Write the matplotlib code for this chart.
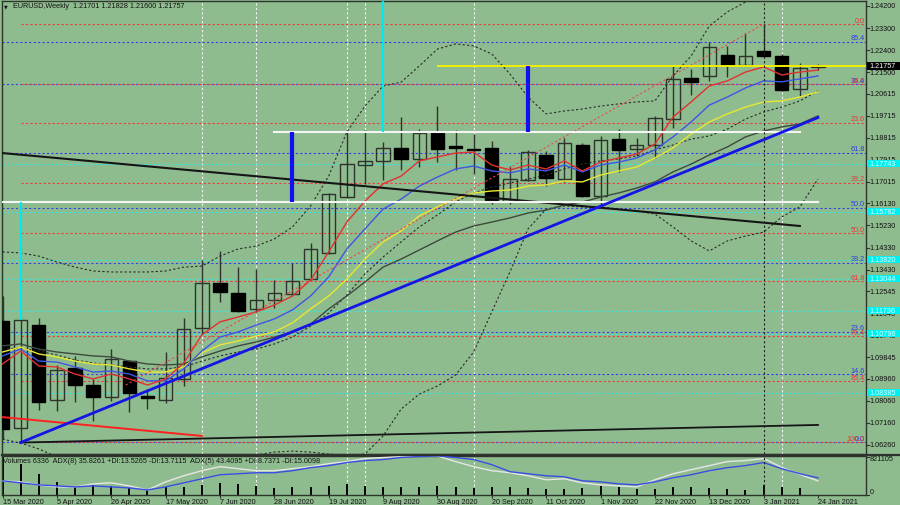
import numpy as np
import matplotlib
matplotlib.use("Agg")
import matplotlib.pyplot as plt
import matplotlib.transforms as mtrans
from matplotlib.patches import Rectangle
from matplotlib.lines import Line2D

plt.rcParams['font.family'] = ['Liberation Sans', 'DejaVu Sans']

# ---------------- data ----------------
symbol_header = "EURUSD,Weekly  1.21701 1.21828 1.21600 1.21757"
indicator_header = ("Volumes 6336  ADX(8) 35.8261 +DI:13.5265 -DI:13.7115  "
                    "ADX(5) 43.4095 +DI:8.7371 -DI:15.0098")

date_labels = ["15 Mar 2020", "5 Apr 2020", "26 Apr 2020", "17 May 2020", "7 Jun 2020",
               "28 Jun 2020", "19 Jul 2020", "9 Aug 2020", "30 Aug 2020", "20 Sep 2020",
               "11 Oct 2020", "1 Nov 2020", "22 Nov 2020", "13 Dec 2020", "3 Jan 2021",
               "24 Jan 2021"]
date_label_bars = list(range(0, 46, 3))

opens = [1.11327, 1.06954, 1.11164, 1.08099, 1.09406, 1.08712, 1.08222, 1.09692, 1.08262, 1.08099,
         1.08957, 1.11041, 1.12880, 1.12471, 1.11818, 1.12186, 1.12430, 1.13044, 1.14106, 1.16394,
         1.17702, 1.17866, 1.18397, 1.17948, 1.19010, 1.18479, 1.18356, 1.18397, 1.16231, 1.17090,
         1.18111, 1.17130, 1.18520, 1.16435, 1.18764, 1.18356, 1.18520, 1.19582, 1.21258, 1.21339,
         1.22197, 1.21789, 1.22361, 1.22156, 1.20807, 1.21701]
highs = [1.12349, 1.11491, 1.11450, 1.09529, 1.09897, 1.08957, 1.10183, 1.09733, 1.08548, 1.10061,
         1.11450, 1.13820, 1.14188, 1.13534, 1.13452, 1.13003, 1.13698, 1.14515, 1.16558, 1.19051,
         1.19133, 1.18642, 1.19664, 1.19174, 1.20113, 1.19133, 1.18969, 1.18683, 1.17661, 1.18315,
         1.18274, 1.18806, 1.18601, 1.18887, 1.19174, 1.18806, 1.19705, 1.21748, 1.21625, 1.22729,
         1.22565, 1.23097, 1.23464, 1.22238, 1.21871, 1.21828]
lows = [1.06505, 1.06382, 1.07690, 1.07649, 1.08017, 1.07241, 1.08058, 1.07608, 1.07731, 1.07976,
        1.08671, 1.10796, 1.12104, 1.11695, 1.11695, 1.11858, 1.12389, 1.13003, 1.14065, 1.16353,
        1.16926, 1.17090, 1.17498, 1.17621, 1.17825, 1.17498, 1.17334, 1.16110, 1.16110, 1.17049,
        1.16844, 1.17008, 1.16394, 1.15986, 1.17416, 1.18070, 1.17988, 1.19214, 1.20563, 1.21135,
        1.21298, 1.21748, 1.22116, 1.20726, 1.20522, 1.21600]
closes = [1.06914, 1.11368, 1.08017, 1.09325, 1.08712, 1.08222, 1.09774, 1.08385, 1.08181, 1.08998,
          1.11000, 1.12880, 1.12512, 1.11736, 1.12185, 1.12471, 1.12962, 1.14270, 1.16517, 1.17743,
          1.17866, 1.18397, 1.17948, 1.19010, 1.18356, 1.18397, 1.18315, 1.16272, 1.17130, 1.18233,
          1.17171, 1.18601, 1.16435, 1.18724, 1.18315, 1.18520, 1.19623, 1.21217, 1.21094, 1.22524,
          1.21789, 1.22157, 1.22157, 1.20767, 1.21666, 1.21757]
volumes = [821105, 652700, 442100, 273700, 168400, 210500, 189500, 147400, 126300, 168400,
           168400, 210500, 252600, 231600, 189500, 147400, 168400, 168400, 189500, 231600,
           189500, 168400, 168400, 168400, 189500, 168400, 147400, 168400, 168400, 147400,
           126300, 126300, 147400, 189500, 168400, 126300, 126300, 168400, 168400, 147400,
           126300, 105300, 210500, 168400, 147400, 6336]
volume_axis_max = 821105

ma_red = [1.0957, 1.1010, 1.0949, 1.0945, 1.0916, 1.0896, 1.0916, 1.0896, 1.0871, 1.0896,
          1.0961, 1.1076, 1.1129, 1.1149, 1.1170, 1.1198, 1.1235, 1.1300, 1.1415, 1.1537,
          1.1623, 1.1693, 1.1725, 1.1787, 1.1803, 1.1819, 1.1823, 1.1770, 1.1750, 1.1770,
          1.1754, 1.1787, 1.1746, 1.1782, 1.1799, 1.1815, 1.1856, 1.1966, 1.2028, 1.2093,
          1.2114, 1.2150, 1.2171, 1.2138, 1.2150, 1.2158]
ma_blue = [1.0990, 1.1018, 1.0969, 1.0965, 1.0945, 1.0924, 1.0928, 1.0916, 1.0888, 1.0888,
           1.0937, 1.1010, 1.1067, 1.1088, 1.1116, 1.1141, 1.1178, 1.1235, 1.1313, 1.1427,
           1.1509, 1.1590, 1.1631, 1.1684, 1.1721, 1.1754, 1.1766, 1.1746, 1.1738, 1.1754,
           1.1746, 1.1770, 1.1742, 1.1770, 1.1782, 1.1799, 1.1832, 1.1885, 1.1946, 1.2015,
           1.2048, 1.2085, 1.2114, 1.2110, 1.2122, 1.2134]
ma_yellow = [1.1006, 1.1026, 1.0998, 1.0986, 1.0969, 1.0957, 1.0953, 1.0937, 1.0924, 1.0924,
             1.0945, 1.1002, 1.1035, 1.1051, 1.1071, 1.1088, 1.1125, 1.1182, 1.1235, 1.1304,
             1.1386, 1.1456, 1.1501, 1.1562, 1.1599, 1.1631, 1.1656, 1.1664, 1.1668, 1.1684,
             1.1689, 1.1705, 1.1701, 1.1729, 1.1746, 1.1762, 1.1799, 1.1840, 1.1897, 1.1946,
             1.1979, 1.2007, 1.2028, 1.2032, 1.2048, 1.2069]
ma_gray = [1.1031, 1.1039, 1.1018, 1.1006, 1.0998, 1.0990, 1.0986, 1.0969, 1.0957, 1.0953,
           1.0957, 1.0986, 1.1010, 1.1031, 1.1047, 1.1067, 1.1088, 1.1120, 1.1182, 1.1235,
           1.1292, 1.1353, 1.1386, 1.1423, 1.1460, 1.1496, 1.1521, 1.1537, 1.1554, 1.1574,
           1.1586, 1.1607, 1.1619, 1.1639, 1.1656, 1.1676, 1.1701, 1.1742, 1.1774, 1.1811,
           1.1844, 1.1885, 1.1909, 1.1926, 1.1938, 1.1971]
bb_upper = [1.1415, 1.1411, 1.1398, 1.1374, 1.1353, 1.1337, 1.1333, 1.1333, 1.1333, 1.1337,
            1.1353, 1.1357, 1.1398, 1.1427, 1.1439, 1.1468, 1.1517, 1.1603, 1.1725, 1.1905,
            1.2011, 1.2093, 1.2109, 1.2175, 1.2244, 1.2265, 1.2257, 1.2224, 1.2142, 1.2048,
            1.1979, 1.1991, 1.1999, 1.2011, 1.2020, 1.2028, 1.2032, 1.2134, 1.2216, 1.2338,
            1.2396, 1.2436, 1.2489]
bb_middle = [1.1018, 1.1022, 1.1010, 1.0994, 1.0973, 1.0961, 1.0953, 1.0945, 1.0937, 1.0937,
             1.0945, 1.0969, 1.0990, 1.1006, 1.1018, 1.1039, 1.1067, 1.1112, 1.1165, 1.1239,
             1.1325, 1.1394, 1.1456, 1.1517, 1.1566, 1.1619, 1.1656, 1.1680, 1.1697, 1.1713,
             1.1729, 1.1754, 1.1774, 1.1787, 1.1795, 1.1807, 1.1832, 1.1852, 1.1876, 1.1889,
             1.1917, 1.1958, 1.1987, 1.2007, 1.2032, 1.2073]
bb_lower = [1.0650, 1.0634, 1.0610, 1.0577, 1.0561, 1.0548, 1.0544, 1.0540, 1.0540, 1.0544,
            1.0548, 1.0557, 1.0569, 1.0577, 1.0585, 1.0597, 1.0601, 1.0597, 1.0589, 1.0581,
            1.0589, 1.0663, 1.0773, 1.0834, 1.0867, 1.0912, 1.1006, 1.1170, 1.1333, 1.1509,
            1.1590, 1.1603, 1.1599, 1.1599, 1.1590, 1.1582, 1.1570, 1.1517, 1.1460, 1.1419,
            1.1460, 1.1480, 1.1496, 1.1558, 1.1599, 1.1713]

adx5 = [35.9, 30.8, 25.6, 23.1, 20.5, 23.1, 20.5, 17.9, 12.8, 20.5, 30.8, 41.0, 51.3, 53.8,
        56.4, 56.4, 61.5, 69.2, 74.4, 82.1, 87.2, 89.7, 94.9, 97.4, 99.0, 95.0, 89.7, 76.9,
        59.0, 53.8, 48.7, 46.2, 35.9, 33.3, 28.2, 25.6, 33.3, 43.6, 51.3, 61.5, 69.2, 74.4,
        82.1, 66.7, 53.8, 43.4]
adx8 = [35.9, 33.3, 25.6, 20.5, 20.5, 28.2, 30.8, 23.1, 12.8, 33.3, 48.7, 61.5, 71.8, 66.7,
        61.5, 61.5, 66.7, 71.8, 79.5, 84.6, 92.3, 94.9, 97.4, 99.0, 99.0, 84.6, 71.8, 61.5,
        56.4, 48.7, 38.5, 41.0, 30.8, 25.6, 23.1, 20.5, 38.5, 53.8, 64.1, 74.4, 84.6, 87.2,
        92.3, 70.0, 52.0, 35.8]

# fibonacci / level objects
red_fib_prices = [1.2346, 1.2101, 1.1942, 1.1697, 1.1492, 1.1296, 1.1071, 1.0887, 1.0638]
red_fib_labels = ["0.0", "14.6", "23.6", "38.2", "50.0", "61.8", "76.4", "85.4", "100.0"]
blue_fib_prices = [1.2273, 1.2101, 1.1821, 1.1595, 1.1370, 1.1088, 1.0916, 1.0638]
blue_fib_labels = ["85.4", "76.4", "61.8", "50.0", "38.2", "23.6", "14.6", "0.0"]
cyan_levels = [1.17743, 1.15782, 1.13820, 1.13044, 1.11736, 1.10796, 1.08385]
price_ticks = [1.24200, 1.23300, 1.22400, 1.21500, 1.20615, 1.19715, 1.18815, 1.17915, 1.17015,
               1.16130, 1.15230, 1.14330, 1.13430, 1.12545, 1.11645, 1.10745, 1.09845, 1.08960,
               1.08060, 1.07160, 1.06260]
last_price = 1.21757
grid_bars = [11, 14, 19, 20, 26, 43]
marker_bar = 42

# trend lines (bar, price)
blue_trend = ([1, 45], [1.0636, 1.1964])
black_trend_down = ([0, 44], [1.1819, 1.1521])
black_trend_up = ([1, 45], [1.0636, 1.0708])
red_trend = ([0, 11], [1.0740, 1.0663])
red_dotted_trend = ([6.8, 42], [1.0871, 1.2346])
white_upper = ([15, 44], [1.1905, 1.1905])
white_lower = ([0, 45], [1.1617, 1.1617])
yellow_level = (24, last_price)
blue_vert_1 = (16, 1.1617, 1.1905)
blue_vert_2 = (29, 1.1905, 1.2176)
cyan_vert_1 = (1, 1.1137, 1.1617)
cyan_vert_2 = (21, 1.1905, 1.2440)

# ---------------- drawing ----------------
BG = '#8fbc8f'
EDGE = '#2e332e'
FS = 5.25
W, H = 900, 506
fig = plt.figure(figsize=(W / 100, H / 100), dpi=100, facecolor=BG)


def box(x0, y0, x1, y1):
    return [x0 / W, 1 - y1 / H, (x1 - x0) / W, (y1 - y0) / H]


ax = fig.add_axes(box(2, 2, 866, 455))
ax2 = fig.add_axes(box(2, 456.5, 866, 496))
for a in (ax, ax2):
    a.set_facecolor(BG)
    for s in a.spines.values():
        s.set_color(EDGE)
        s.set_linewidth(1.0)

bars = np.arange(len(opens))
XL = (-0.028, 47.65)
ax.set_xlim(*XL)
ax.set_ylim(1.05892, 1.24404)
ax.set_xticks([])
ax.set_yticks([])

dash = (0, (2, 2))

# grid
for b in grid_bars:
    ax.axvline(b, color='#f4f4f4', lw=0.8, ls=dash, zorder=1)
    ax2.axvline(b, color='#f4f4f4', lw=0.8, ls=dash, zorder=1)
ax.axvline(marker_bar, color='#202020', lw=0.8, ls=dash, zorder=6)
ax2.axvline(marker_bar, color='#202020', lw=0.8, ls=dash, zorder=6)

# fib levels
for p in cyan_levels:
    ax.hlines(p, XL[0], XL[1], color='#33e6e6', lw=0.8, ls=dash, zorder=1.5)
for p in blue_fib_prices:
    ax.hlines(p, XL[0], XL[1], color='#3340ee', lw=0.8, ls=dash, zorder=1.6)
for p in red_fib_prices:
    ax.hlines(p, 1, XL[1], color='#ee3a3a', lw=0.8, ls=dash, zorder=1.7)

blend = mtrans.blended_transform_factory(ax.transAxes, ax.transData)
for p, lab in zip(blue_fib_prices, blue_fib_labels):
    ax.text(0.9985, p + 0.0002, lab, transform=blend, ha='right', va='bottom',
            color='#2a3cf0', fontsize=FS, zorder=8)
for p, lab in zip(red_fib_prices, red_fib_labels):
    ax.text(0.9985, p + 0.0002, lab, transform=blend, ha='right', va='bottom',
            color='#f03232', fontsize=FS, zorder=8)

# candles
for i in bars:
    o, h, l, c = opens[i], highs[i], lows[i], closes[i]
    ax.vlines(i, l, h, color=EDGE, lw=1.0, zorder=3)
    bottom = min(o, c)
    height = max(abs(c - o), 0.00005)
    if c >= o:
        r = Rectangle((i - 0.37, bottom), 0.74, height, facecolor='none',
                      edgecolor=EDGE, lw=1.0, zorder=3.2)
    else:
        r = Rectangle((i - 0.37, bottom), 0.74, height, facecolor='black',
                      edgecolor='black', lw=1.0, zorder=3.2)
    ax.add_patch(r)

# moving averages and bands
ax.plot(bars[:len(bb_upper)], bb_upper, color='#2a2a2a', lw=0.8, ls=dash, zorder=4)
ax.plot(bars, bb_middle, color='#2a2a2a', lw=0.8, ls=dash, zorder=4)
ax.plot(bars, bb_lower, color='#2a2a2a', lw=0.8, ls=dash, zorder=4)
ax.plot(bars, ma_gray, color='#3d4a3d', lw=1.0, zorder=4)
ax.plot(bars, ma_yellow, color='#e8e830', lw=1.0, zorder=4)
ax.plot(bars, ma_blue, color='#3f55e6', lw=1.0, zorder=4)
ax.plot(bars, ma_red, color='#e23030', lw=1.0, zorder=4)

# trend lines / objects
ax.plot(*red_dotted_trend, color='#e84a4a', lw=0.8, ls=dash, zorder=4)
ax.plot(*black_trend_down, color='#151515', lw=1.5, zorder=5)
ax.plot(*black_trend_up, color='#151515', lw=1.3, zorder=5)
ax.plot(*red_trend, color='#ff2020', lw=1.4, zorder=5)
ax.plot(*white_upper, color='#f5f5f5', lw=1.5, zorder=5)
ax.plot(*white_lower, color='#f5f5f5', lw=1.5, zorder=5)
ax.plot(*blue_trend, color='#1515e6', lw=2.0, zorder=5)
ax.hlines(yellow_level[1], yellow_level[0], XL[1], color='#f0f000', lw=1.4, zorder=5)
ax.vlines(blue_vert_1[0], blue_vert_1[1], blue_vert_1[2], color='#1010f0', lw=3.0, zorder=5)
ax.vlines(blue_vert_2[0], blue_vert_2[1], blue_vert_2[2], color='#1010f0', lw=3.0, zorder=5)
ax.vlines(cyan_vert_1[0], cyan_vert_1[1], cyan_vert_1[2], color='#00e8f0', lw=1.6, zorder=5)
ax.vlines(cyan_vert_2[0], cyan_vert_2[1], cyan_vert_2[2], color='#00e8f0', lw=1.6, zorder=5)

# right price axis
for p in price_ticks:
    ax.plot([1.0, 1.004], [p, p], transform=blend, color=EDGE, lw=0.8, clip_on=False)
    ax.text(1.0042, p, f"{p:.5f}", transform=blend, ha='left', va='center',
            fontsize=FS, color='#111111', clip_on=False)
px = 0.00040866
bw = 34 / 864
for p in cyan_levels:
    ax.add_patch(Rectangle((1.0015, p - 3.5 * px), bw, 7 * px, transform=blend,
                           facecolor='#00f0f0', edgecolor='none', clip_on=False, zorder=9))
    ax.text(1.0042, p, f"{p:.5f}", transform=blend, ha='left', va='center',
            fontsize=FS, color='#d8ffff', clip_on=False, zorder=10)
ax.add_patch(Rectangle((1.0015, last_price - 4 * px), bw, 8 * px, transform=blend,
                       facecolor='black', edgecolor='none', clip_on=False, zorder=9))
ax.text(1.0042, last_price, f"{last_price:.5f}", transform=blend, ha='left', va='center',
        fontsize=FS, color='white', clip_on=False, zorder=10)

# header
ax.text(0.0025, 0.989, "\u25BC", transform=ax.transAxes, fontsize=3.5, va='center',
        ha='left', color='#111111', family=['DejaVu Sans'])
ax.text(0.0125, 0.989, symbol_header, transform=ax.transAxes, fontsize=FS, va='center',
        ha='left', color='#111111')

# indicator panel (ADX on 0-100, volumes scaled to the panel's volume axis)
ax2.set_xlim(*XL)
ax2.set_ylim(0, 100)
ax2.set_yticks([])
vol_pct = np.array(volumes, dtype=float) / volume_axis_max * 100.0
ax2.vlines(bars, 0, vol_pct, color='black', lw=1.4, zorder=2)
ax2.plot(bars, adx8, color='#e6e6e6', lw=1.0, zorder=3)
ax2.plot(bars, adx5, color='#3a4ee6', lw=1.0, zorder=3.5)
ax2.set_xticks(date_label_bars)
ax2.set_xticklabels(date_labels, fontsize=FS, ha='left', color='#111111')
ax2.tick_params(axis='x', length=2, width=0.8, pad=0.5, color=EDGE)
ax2.text(0.0015, 0.88, indicator_header, transform=ax2.transAxes, fontsize=FS,
         va='center', ha='left', color='#111111')
vblend = mtrans.blended_transform_factory(ax2.transAxes, ax2.transData)
ax2.text(1.0042, 100, "821105", transform=vblend, ha='left', va='top',
         fontsize=FS, color='#111111', clip_on=False)
ax2.text(1.0042, 0, "0", transform=vblend, ha='left', va='bottom',
         fontsize=FS, color='#111111', clip_on=False)
for v in (97, 0):
    ax2.plot([1.0, 1.004], [v, v], transform=vblend, color=EDGE, lw=0.8, clip_on=False)

# separator across full width
fig.add_artist(Line2D([2 / W, 1.0], [1 - 455.7 / H, 1 - 455.7 / H], color=EDGE, lw=1.6))

fig.savefig("out.png", dpi=100, facecolor=BG)
